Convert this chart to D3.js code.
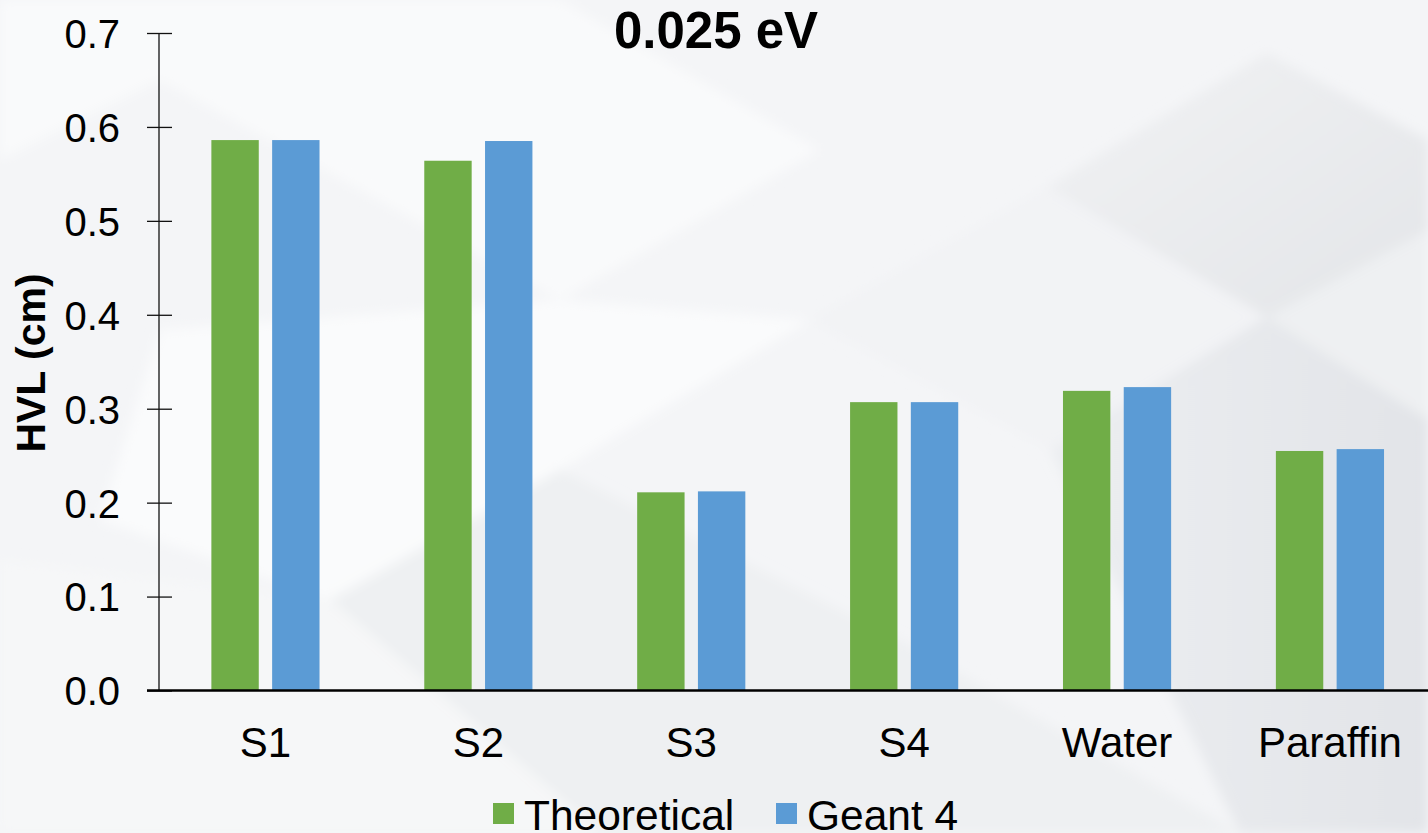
<!DOCTYPE html>
<html>
<head>
<meta charset="utf-8">
<script src="https://cdn.jsdelivr.net/npm/d3@7"></script>
<style>
  html, body { margin: 0; padding: 0; background: #f4f5f7; }
  svg { display: block; font-family: "Liberation Sans", Arial, sans-serif; }
</style>
</head>
<body>
<svg id="chart" width="1428" height="833"></svg>
<script>
// HVL at 0.025 eV for each shielding material
const categories = ["S1", "S2", "S3", "S4", "Water", "Paraffin"];
const seriesNames = ["Theoretical", "Geant 4"];
const theoretical = [0.586, 0.564, 0.211, 0.307, 0.319, 0.255];
const geant4 = [0.586, 0.585, 0.212, 0.307, 0.323, 0.257];
const yTicks = [0.0, 0.1, 0.2, 0.3, 0.4, 0.5, 0.6, 0.7];
const colors = ["#70ad47", "#5b9bd5"];

const W = 1428, H = 833;
const svg = d3.select("#chart");

// ---- soft geometric backdrop ----
const defs = svg.append("defs");
defs.append("filter").attr("id", "soft")
  .attr("x", "-10%").attr("y", "-10%").attr("width", "120%").attr("height", "120%")
  .append("feGaussianBlur").attr("stdDeviation", 6);
const g1 = defs.append("linearGradient").attr("id", "shadeA")
  .attr("x1", "0").attr("y1", "0").attr("x2", "1").attr("y2", "1");
g1.append("stop").attr("offset", "0").attr("stop-color", "#f1f2f4");
g1.append("stop").attr("offset", "1").attr("stop-color", "#e3e5e8");
const g2 = defs.append("linearGradient").attr("id", "shadeB")
  .attr("x1", "0").attr("y1", "0").attr("x2", "1").attr("y2", "0");
g2.append("stop").attr("offset", "0").attr("stop-color", "#eceef1");
g2.append("stop").attr("offset", "1").attr("stop-color", "#e2e4e8");

svg.append("rect").attr("width", W).attr("height", H).attr("fill", "#f4f5f7");
const bg = svg.append("g").attr("filter", "url(#soft)");
const shapes = [
  { pts: [[0,0],[560,0],[820,150],[560,300],[160,80],[0,160]], fill: "#f9fafb" },
  { pts: [[160,330],[560,300],[810,320],[560,470],[330,600],[100,520]], fill: "#fafbfc" },
  { pts: [[1047,187],[1267,53],[1428,140],[1428,230],[1267,317]], fill: "url(#shadeA)" },
  { pts: [[1267,317],[1428,230],[1428,420],[1350,380]], fill: "#eef0f2" },
  { pts: [[810,320],[1047,187],[1267,317],[1050,450]], fill: "#f2f3f5" },
  { pts: [[330,600],[560,470],[900,640],[1240,833],[600,833]], fill: "#eef0f2" },
  { pts: [[1050,450],[1267,317],[1428,420],[1428,833],[1240,833]], fill: "url(#shadeB)" },
  { pts: [[0,560],[330,600],[600,833],[0,833]], fill: "#f6f7f8" }
];
bg.selectAll("polygon").data(shapes).join("polygon")
  .attr("points", d => d.pts.map(p => p.join(",")).join(" "))
  .attr("fill", d => d.fill);

// ---- scales ----
const x0 = d3.scaleBand().domain(categories).range([159, 1436.4]).padding(0);
const bw = x0.bandwidth();
const x1 = d3.scaleBand().domain(seriesNames)
  .range([bw * 0.246, bw * 0.754]).paddingInner(0.22);
const y = d3.scaleLinear().domain([0, 0.7]).range([690.5, 33]);

const rows = categories.map((c, i) => ({
  cat: c,
  vals: [
    { s: seriesNames[0], v: theoretical[i], c: colors[0] },
    { s: seriesNames[1], v: geant4[i], c: colors[1] }
  ]
}));

// ---- bars ----
svg.append("g").selectAll("g").data(rows).join("g")
  .attr("transform", d => `translate(${x0(d.cat)},0)`)
  .selectAll("rect").data(d => d.vals).join("rect")
  .attr("x", d => x1(d.s))
  .attr("width", x1.bandwidth())
  .attr("y", d => y(d.v))
  .attr("height", d => y(0) - y(d.v))
  .attr("fill", d => d.c);

// ---- y axis ----
const yAxis = svg.append("g").attr("transform", "translate(159,0)")
  .call(d3.axisLeft(y).tickValues(yTicks).tickFormat(d3.format(".1f")).tickSize(12));
yAxis.select(".domain").attr("stroke", "#111").attr("stroke-width", 1.3)
  .attr("d", `M0,${y(0.7)}V${y(0)}`);
yAxis.selectAll(".tick line").attr("x1", -12).attr("x2", 13)
  .attr("stroke", "#111").attr("stroke-width", 1.3);
yAxis.selectAll(".tick text")
  .attr("x", -39).attr("dy", "0.36em")
  .attr("font-size", 40).attr("fill", "#000")
  .attr("font-family", "Liberation Sans, Arial, sans-serif");

// ---- x axis ----
const xAxis = svg.append("g").attr("transform", `translate(0,${y(0)})`)
  .call(d3.axisBottom(x0).tickSize(0).tickPadding(0));
xAxis.select(".domain").attr("stroke", "#000").attr("stroke-width", 2.4)
  .attr("d", `M147,0H${W}`);
xAxis.selectAll(".tick text")
  .attr("y", 66.5).attr("dy", 0)
  .attr("font-size", 42).attr("fill", "#000")
  .attr("font-family", "Liberation Sans, Arial, sans-serif");

// ---- title ----
svg.append("text")
  .attr("x", 716).attr("y", 48)
  .attr("text-anchor", "middle")
  .attr("font-size", 51).attr("font-weight", "bold")
  .text("0.025 eV");

// ---- y axis title ----
svg.append("text")
  .attr("transform", "translate(45,363) rotate(-90)")
  .attr("text-anchor", "middle")
  .attr("font-size", 41).attr("font-weight", "bold")
  .text("HVL (cm)");

// ---- legend ----
const legendX = [493, 776];
const legend = svg.append("g").selectAll("g").data(seriesNames).join("g")
  .attr("transform", (d, i) => `translate(${legendX[i]},0)`);
legend.append("rect")
  .attr("x", 0).attr("y", 803)
  .attr("width", 21).attr("height", 21)
  .attr("fill", (d, i) => colors[i]);
legend.append("text")
  .attr("x", 31).attr("y", 830)
  .attr("font-size", 42.5).attr("fill", "#000")
  .text(d => d);
</script>
</body>
</html>
